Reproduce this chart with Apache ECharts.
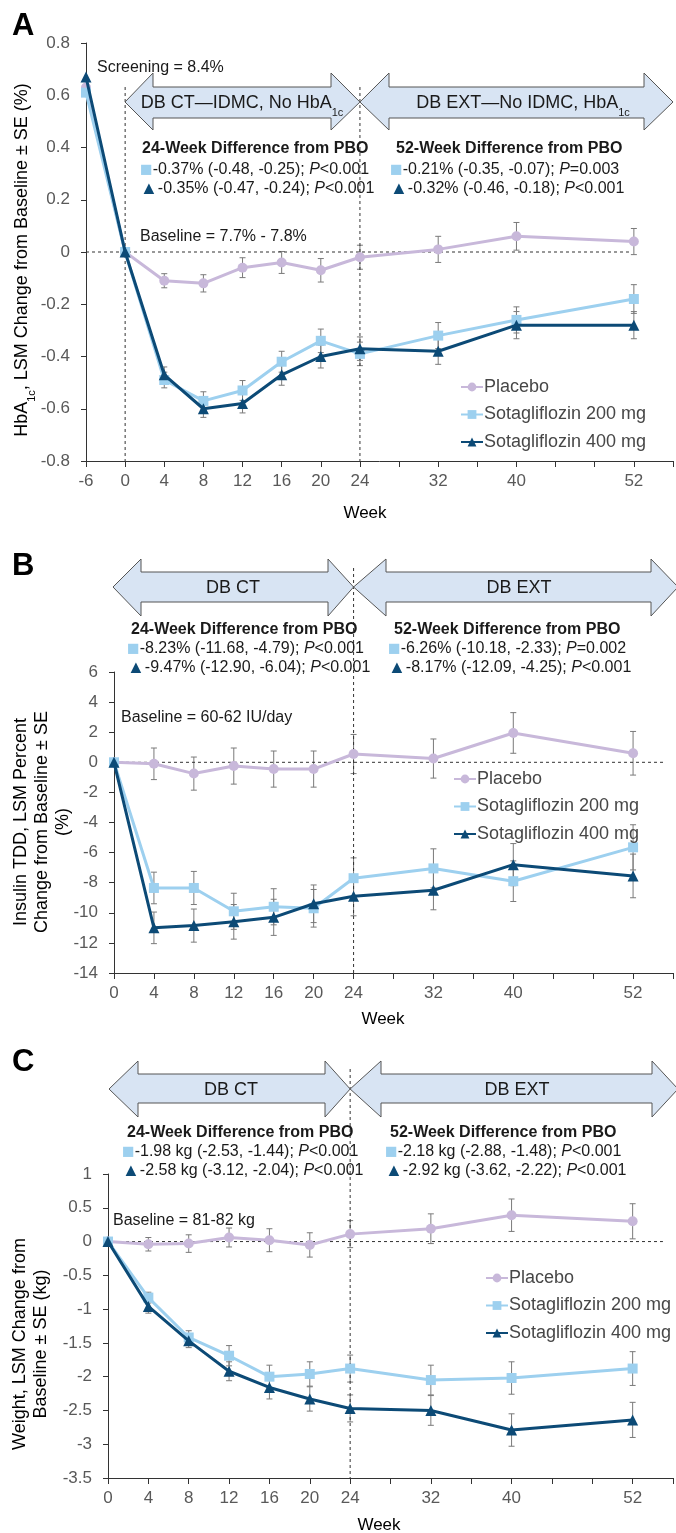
<!DOCTYPE html>
<html><head><meta charset="utf-8">
<script src="https://cdn.jsdelivr.net/npm/echarts@6/dist/echarts.min.js"></script>
<style>html,body{margin:0;padding:0;background:#fff}#c{width:676px;height:1533px}</style>
</head><body><div id="c"></div><script>
// ---------- DATA ----------
const seriesNames = ['Placebo', 'Sotagliflozin 200 mg', 'Sotagliflozin 400 mg'];
const weeksA = [-6, 0, 4, 8, 12, 16, 20, 24, 32, 40, 52];
const weeksBC = [0, 4, 8, 12, 16, 20, 24, 32, 40, 52];
const tickLabelsA = ['-6','0','4','8','12','16','20','24','','32','','40','','','52',''];
const tickLabelsBC = ['0','4','8','12','16','20','24','','32','','40','','','52',''];

// Panel A: HbA1c change (%)
const A_pbo     = [0.63, 0, -0.11, -0.12, -0.06, -0.04, -0.07, -0.02, 0.01, 0.06, 0.04];
const A_pbo_se  = [0, 0, 0.027, 0.033, 0.038, 0.042, 0.045, 0.046, 0.05, 0.053, 0.05];
const A_s200    = [0.61, 0, -0.49, -0.57, -0.53, -0.42, -0.34, -0.39, -0.32, -0.26, -0.18];
const A_s200_se = [0, 0, 0.03, 0.035, 0.038, 0.04, 0.045, 0.045, 0.05, 0.05, 0.055];
const A_s400    = [0.67, 0, -0.47, -0.60, -0.58, -0.47, -0.40, -0.37, -0.38, -0.28, -0.28];
const A_s400_se = [0, 0, 0.03, 0.033, 0.036, 0.04, 0.044, 0.045, 0.05, 0.052, 0.052];

// Panel B: insulin TDD % change
const B_pbo     = [0, -0.1, -0.75, -0.25, -0.45, -0.45, 0.55, 0.25, 1.95, 0.6];
const B_pbo_se  = [0, 1.05, 1.1, 1.2, 1.2, 1.2, 1.3, 1.3, 1.35, 1.45];
const B_s200    = [0, -8.35, -8.35, -9.9, -9.6, -9.7, -7.7, -7.05, -7.9, -5.65];
const B_s200_se = [0, 1.05, 1.1, 1.2, 1.2, 1.25, 1.35, 1.3, 1.35, 1.5];
const B_s400    = [0, -11.0, -10.85, -10.6, -10.3, -9.4, -8.9, -8.5, -6.8, -7.55];
const B_s400_se = [0, 1.05, 1.1, 1.15, 1.2, 1.25, 1.3, 1.3, 1.4, 1.45];

// Panel C: weight change (kg)
const C_pbo     = [0, -0.04, -0.03, 0.06, 0.02, -0.05, 0.11, 0.19, 0.39, 0.30];
const C_pbo_se  = [0, 0.1, 0.13, 0.14, 0.17, 0.18, 0.2, 0.22, 0.24, 0.26];
const C_s200    = [0, -0.83, -1.42, -1.69, -2.0, -1.96, -1.88, -2.05, -2.02, -1.88];
const C_s200_se = [0, 0.08, 0.1, 0.15, 0.17, 0.18, 0.2, 0.22, 0.24, 0.25];
const C_s400    = [0, -0.96, -1.47, -1.92, -2.16, -2.33, -2.47, -2.5, -2.79, -2.64];
const C_s400_se = [0, 0.1, 0.1, 0.14, 0.17, 0.18, 0.2, 0.22, 0.24, 0.26];

// ---------- STYLE ----------
const FONT = "'Liberation Sans', Arial, sans-serif";
const COLORS = ['#c8b8da', '#9dd0ef', '#0c4a76'];
const SYMBOLS = ['circle', 'rect', 'triangle'];
const SYMSIZE = [10, 10, 11];
const TXT = '#1a1a1a';
const TICK = '#595959';

const posA = w => (w < 0 ? -4 : w);   // screening week drawn at first tick
const posBC = w => w;

const chart = echarts.init(document.getElementById('c'), null, {renderer: 'canvas'});

const grids = [
  {left: 86, top: 43, width: 590, height: 418},
  {left: 114, top: 672, width: 566, height: 301},
  {left: 108, top: 1174, width: 573, height: 304}
];
const yRanges = [[-0.8, 0.8, 0.2], [-14, 6, 2], [-3.5, 1, 0.5]];
const xSpecs = [[-4, tickLabelsA], [0, tickLabelsBC], [0, tickLabelsBC]];

const xAxis = xSpecs.map((s, i) => ({
  gridIndex: i, type: 'value', min: s[0], max: 56, interval: 4,
  axisLine: {show: true, onZero: false, lineStyle: {color: '#333', width: 1}},
  axisTick: {show: true, length: 6, lineStyle: {color: '#333'}},
  splitLine: {show: false},
  axisLabel: {fontSize: 17, color: TICK, fontFamily: FONT, margin: 12,
    showMinLabel: true, showMaxLabel: true,
    formatter: v => s[1][Math.round((v - s[0]) / 4)] || ''}
}));
const yAxis = yRanges.map((r, i) => ({
  gridIndex: i, type: 'value', min: r[0], max: r[1], interval: r[2],
  axisLine: {show: true, onZero: false, lineStyle: {color: '#333', width: 1}},
  axisTick: {show: true, length: 5, lineStyle: {color: '#333'}},
  splitLine: {show: false},
  axisLabel: {fontSize: 17, color: TICK, fontFamily: FONT, margin: 16}
}));

const panels = [
  {weeks: weeksA, pos: posA, vals: [A_pbo, A_s200, A_s400], se: [A_pbo_se, A_s200_se, A_s400_se]},
  {weeks: weeksBC, pos: posBC, vals: [B_pbo, B_s200, B_s400], se: [B_pbo_se, B_s200_se, B_s400_se]},
  {weeks: weeksBC, pos: posBC, vals: [C_pbo, C_s200, C_s400], se: [C_pbo_se, C_s200_se, C_s400_se]}
];

const series = [];
panels.forEach((p, gi) => {
  p.vals.forEach((vals, k) => {
    const se = p.se[k];
    const edata = [];
    p.weeks.forEach((w, j) => { if (se[j] > 0) edata.push([p.pos(w), vals[j] - se[j], vals[j] + se[j]]); });
    series.push({
      type: 'custom', xAxisIndex: gi, yAxisIndex: gi, z: 1, silent: true,
      encode: {x: 0, y: [1, 2]}, data: edata,
      renderItem: (params, api) => {
        const x = api.value(0);
        const lo = api.coord([x, api.value(1)]);
        const hi = api.coord([x, api.value(2)]);
        const c = 3, st = {stroke: '#7a7a7a', lineWidth: 1};
        return {type: 'group', children: [
          {type: 'line', shape: {x1: lo[0], y1: lo[1], x2: hi[0], y2: hi[1]}, style: st},
          {type: 'line', shape: {x1: lo[0] - c, y1: lo[1], x2: lo[0] + c, y2: lo[1]}, style: st},
          {type: 'line', shape: {x1: hi[0] - c, y1: hi[1], x2: hi[0] + c, y2: hi[1]}, style: st}
        ]};
      }
    });
  });
  p.vals.forEach((vals, k) => {
    series.push({
      name: seriesNames[k], type: 'line', xAxisIndex: gi, yAxisIndex: gi, z: 2 + k,
      data: p.weeks.map((w, j) => [p.pos(w), vals[j]]),
      symbol: SYMBOLS[k], symbolSize: SYMSIZE[k], showAllSymbol: true,
      lineStyle: {color: COLORS[k], width: 3},
      itemStyle: {color: COLORS[k], borderWidth: 0},
      emphasis: {disabled: true}
    });
  });
});

const legendPos = [[455, 372], [448, 764], [480, 1263]];
const legend = legendPos.map(p => ({
  left: p[0], top: p[1], orient: 'vertical', itemWidth: 22, itemHeight: 11, itemGap: 7.5,
  selectedMode: false,
  textStyle: {fontSize: 18, color: '#474747', fontFamily: FONT, lineHeight: 20, padding: [0, 0, 0, -4]},
  data: seriesNames
}));

chart.setOption({
  animation: false,
  grid: grids,
  xAxis, yAxis, legend, series
});

// ---------- ANNOTATIONS ----------
const G = [];
function txt(x, y, text, o) {
  o = o || {};
  G.push({type: 'text', x, y, rotation: o.rot || 0, z: 10, silent: true,
    style: Object.assign({
      text, fill: o.color || TXT, fontSize: o.size || 16, fontFamily: FONT,
      fontWeight: o.bold ? 'bold' : 'normal',
      align: o.align || 'left', textAlign: o.align || 'left',
      verticalAlign: 'middle', textVerticalAlign: 'middle',
      lineHeight: o.lh || undefined
    }, o.rich ? {rich: o.rich} : {})});
}
function dline(x1, y1, x2, y2) {
  G.push({type: 'line', z: 1, silent: true, shape: {x1, y1, x2, y2},
    style: {stroke: '#333', lineWidth: 1, lineDash: [3, 3]}});
}
function arrow(xl, xlb, xrb, xr, yht, ybt, yc, ybb, yhb) {
  G.push({type: 'polygon', z: 5, silent: true,
    shape: {points: [[xl, yc], [xlb, yht], [xlb, ybt], [xrb, ybt], [xrb, yht], [xr, yc], [xrb, yhb], [xrb, ybb], [xlb, ybb], [xlb, yhb]]},
    style: {fill: '#d8e4f3', stroke: '#555', lineWidth: 1}});
}
const px = (gi, x, y) => chart.convertToPixel({gridIndex: gi}, [x, y]);

const richBase = {
  sq: {fill: COLORS[1], color: COLORS[1], fontSize: 21, fontFamily: FONT, lineHeight: 18},
  tr: {fill: COLORS[2], color: COLORS[2], fontSize: 18, fontFamily: FONT, lineHeight: 18},
  i: {fontStyle: 'italic', fontSize: 16, fontFamily: FONT, fill: TXT, lineHeight: 18},
  t: {fontSize: 16, fontFamily: FONT, fill: TXT, lineHeight: 18}
};
const richSub = (size, col) => ({
  m: {fontSize: size, fontFamily: FONT, fill: col || TXT, lineHeight: size + 4, verticalAlign: 'middle'},
  s: {fontSize: Math.round(size * 0.6), fontFamily: FONT, fill: col || TXT, verticalAlign: 'bottom', lineHeight: size + 4, padding: [0, 0, -4, 0]}
});

// Panel letters
txt(12, 26, 'A', {size: 31, bold: true, color: '#000'});
txt(12, 566, 'B', {size: 31, bold: true, color: '#000'});
txt(12, 1062, 'C', {size: 31, bold: true, color: '#000'});

// --- Panel A ---
{
  const z0 = px(0, 0, 0), z24 = px(0, 24, 0), zL = px(0, -4, 0), zR = px(0, 51.5, 0), bot = px(0, 0, -0.8)[1];
  dline(zL[0], z0[1], zR[0], z0[1]);
  dline(z0[0], 87, z0[0], bot);
  dline(z24[0], 87, z24[0], bot);
  arrow(125, 153, 331, z24[0], 73, 87, 102, 118, 130);
  arrow(z24[0], 389, 644, 673, 73, 87, 102, 118, 130);
  txt(242, 103, '{m|DB CT—IDMC, No HbA}{s|1c}', {align: 'center', rich: richSub(18)});
  txt(523, 103, '{m|DB EXT—No IDMC, HbA}{s|1c}', {align: 'center', rich: richSub(18)});
  txt(97, 68, 'Screening = 8.4%');
  txt(142, 149, '24-Week Difference from PBO', {bold: true});
  txt(140, 170, '{sq|■}{t|-0.37% (-0.48, -0.25); }{i|P}{t|<0.001}', {rich: richBase});
  txt(140, 189, '{tr|▲}{t|-0.35% (-0.47, -0.24); }{i|P}{t|<0.001}', {rich: richBase});
  txt(396, 149, '52-Week Difference from PBO', {bold: true});
  txt(390, 170, '{sq|■}{t|-0.21% (-0.35, -0.07); }{i|P}{t|=0.003}', {rich: richBase});
  txt(390, 189, '{tr|▲}{t|-0.32% (-0.46, -0.18); }{i|P}{t|<0.001}', {rich: richBase});
  txt(140, 237, 'Baseline = 7.7% - 7.8%');
  txt(365, 513, 'Week', {size: 17, align: 'center', color: '#000'});
  txt(22, 260, '{m|HbA}{s|1c}{m|, LSM Change from Baseline ± SE (%)}', {align: 'center', rot: Math.PI / 2, rich: richSub(18, '#000')});
}
// --- Panel B ---
{
  const z0 = px(1, 0, 0), z24 = px(1, 24, 0), zR = px(1, 55, 0), bot = px(1, 0, -14)[1];
  dline(z0[0], z0[1], zR[0], z0[1]);
  dline(z24[0], 568, z24[0], bot);
  arrow(113, 141, 328, z24[0], 559, 572, 587, 602, 616);
  arrow(z24[0], 386, 651, 678, 559, 572, 587, 602, 616);
  txt(233, 588, 'DB CT', {size: 18, align: 'center'});
  txt(519, 588, 'DB EXT', {size: 18, align: 'center'});
  txt(131, 630, '24-Week Difference from PBO', {bold: true});
  txt(127, 649, '{sq|■}{t|-8.23% (-11.68, -4.79); }{i|P}{t|<0.001}', {rich: richBase});
  txt(127, 668, '{tr|▲}{t|-9.47% (-12.90, -6.04); }{i|P}{t|<0.001}', {rich: richBase});
  txt(394, 630, '52-Week Difference from PBO', {bold: true});
  txt(388, 649, '{sq|■}{t|-6.26% (-10.18, -2.33); }{i|P}{t|=0.002}', {rich: richBase});
  txt(388, 668, '{tr|▲}{t|-8.17% (-12.09, -4.25); }{i|P}{t|<0.001}', {rich: richBase});
  txt(121, 718, 'Baseline = 60-62 IU/day');
  txt(383, 1019, 'Week', {size: 17, align: 'center', color: '#000'});
  txt(42, 822, 'Insulin TDD, LSM Percent\nChange from Baseline ± SE\n(%)', {size: 18, align: 'center', rot: Math.PI / 2, lh: 21, color: '#000'});
}
// --- Panel C ---
{
  const z0 = px(2, 0, 0), z24 = px(2, 24, 0), zR = px(2, 55, 0), bot = px(2, 0, -3.5)[1];
  dline(z0[0], z0[1], zR[0], z0[1]);
  dline(z24[0], 1069, z24[0], bot);
  arrow(109, 138, 325, z24[0], 1061, 1074, 1089, 1103, 1117);
  arrow(z24[0], 381, 652, 678, 1061, 1074, 1089, 1103, 1117);
  txt(231, 1090, 'DB CT', {size: 18, align: 'center'});
  txt(517, 1090, 'DB EXT', {size: 18, align: 'center'});
  txt(127, 1133, '24-Week Difference from PBO', {bold: true});
  txt(122, 1152, '{sq|■}{t|-1.98 kg (-2.53, -1.44); }{i|P}{t|<0.001}', {rich: richBase});
  txt(122, 1171, '{tr|▲}{t|-2.58 kg (-3.12, -2.04); }{i|P}{t|<0.001}', {rich: richBase});
  txt(390, 1133, '52-Week Difference from PBO', {bold: true});
  txt(385, 1152, '{sq|■}{t|-2.18 kg (-2.88, -1.48); }{i|P}{t|<0.001}', {rich: richBase});
  txt(385, 1171, '{tr|▲}{t|-2.92 kg (-3.62, -2.22); }{i|P}{t|<0.001}', {rich: richBase});
  txt(113, 1221, 'Baseline = 81-82 kg');
  txt(379, 1525, 'Week', {size: 17, align: 'center', color: '#000'});
  txt(31, 1344, 'Weight, LSM Change from\nBaseline ± SE (kg)', {size: 18, align: 'center', rot: Math.PI / 2, lh: 21, color: '#000'});
}

chart.setOption({graphic: G});
</script></body></html>
